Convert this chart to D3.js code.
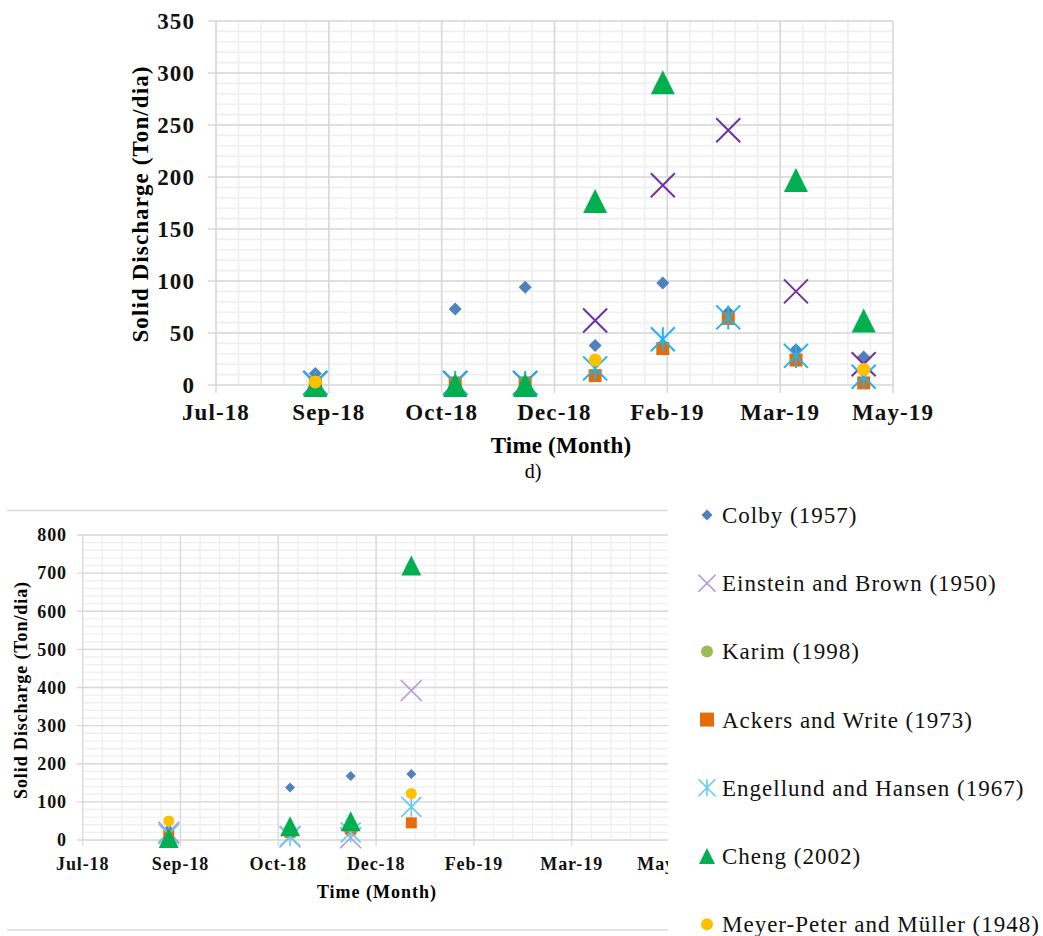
<!DOCTYPE html>
<html>
<head>
<meta charset="utf-8">
<script src="https://cdn.jsdelivr.net/npm/d3@7"></script>
<style>
  body { margin: 0; background: #fff; }
  svg { display: block; font-family: "Liberation Serif", "Times New Roman", serif; }
</style>
</head>
<body>
<svg id="chart" width="1043" height="936"></svg>
<script>
// ---- Data ----
const sampleDates = ["2018-09-01", "2018-11-02", "2018-12-03", "2019-01-03",
                     "2019-02-02", "2019-03-03", "2019-04-02", "2019-05-02"];
const axisStart = "2018-07-19";
const axisEnd = "2019-05-15";
const tickLabels = ["Jul-18", "Sep-18", "Oct-18", "Dec-18", "Feb-19", "Mar-19", "May-19"];

const seriesNames = ["Colby (1957)", "Einstein and Brown (1950)", "Karim (1998)",
                     "Ackers and Write (1973)", "Engellund and Hansen (1967)",
                     "Cheng (2002)", "Meyer-Peter and Müller (1948)"];

// panel d) (top), one value per sample date
const colbyD    = [11, 73, 94, 38, 98, 70, 34, 27];
const einsteinD = [2, 2, 2, 62, 192, 245, 90, 20];
const karimD    = [null, null, null, null, null, null, null, null];
const ackersD   = [2, 2, 2, 9, 35, 64, 24, 2];
const engelundD = [2, 2, 2, 16, 44, 65, 28, 8];
const chengD    = [0, 0, 0, 177, 291, null, 197, 62];
const meyerD    = [3, null, null, 24, null, null, null, 15];

// bottom panel, first four sample dates
const colbyC    = [28, 138, 168, 173];
const einsteinC = [20, 8, 6, 392];
const karimC    = [null, null, null, null];
const ackersC   = [12, 20, 28, 45];
const engelundC = [15, 10, 20, 87];
const chengC    = [5, 36, 49, 720];
const meyerC    = [50, null, null, 122];

const parse = d3.utcParse("%Y-%m-%d");
const svg = d3.select("#chart");

// ---- Marker shapes ----
function markerPath(type, s) {
    const h = s / 2;
    switch (type) {
        case "diamond":  return `M0,${-h}L${h},0L0,${h}L${-h},0Z`;
        case "square":   return `M${-h},${-h}H${h}V${h}H${-h}Z`;
        case "triangle": return `M0,${-h}L${h},${h}L${-h},${h}Z`;
        case "circle":   return `M${h},0A${h},${h} 0 1,1 ${-h},0A${h},${h} 0 1,1 ${h},0Z`;
        case "x":        return `M${-h},${-h}L${h},${h}M${h},${-h}L${-h},${h}`;
        case "star":     return `M${-h},${-h}L${h},${h}M${h},${-h}L${-h},${h}M0,${-h}V${h}`;
    }
}
const strokeOnly = t => t === "x" || t === "star";

function drawMarker(g, type, size, color, sw) {
    return g.append("path")
        .attr("d", markerPath(type, size))
        .attr("fill", strokeOnly(type) ? "none" : color)
        .attr("stroke", strokeOnly(type) ? color : "none")
        .attr("stroke-width", sw);
}

// ---- Generic panel ----
function drawPanel(opt) {
    const g = svg.append("g");
    if (opt.clip) {
        svg.append("clipPath").attr("id", opt.clip.id)
            .append("rect").attr("x", 0).attr("y", 0)
            .attr("width", opt.clip.width).attr("height", 936);
        g.attr("clip-path", `url(#${opt.clip.id})`);
    }

    const x = d3.scaleUtc()
        .domain([parse(axisStart), parse(axisEnd)])
        .range(opt.xRange);
    const y = d3.scaleLinear()
        .domain([0, opt.yMax])
        .range(opt.yRange);

    const x0 = opt.xRange[0], x1 = opt.xRange[1];
    const y0 = opt.yRange[0], y1 = opt.yRange[1];

    const majorX = d3.range(0, 301, 50).map(d => d3.utcDay.offset(parse(axisStart), d));
    const minorX = d3.range(0, 301, 10).map(d => d3.utcDay.offset(parse(axisStart), d));
    const majorY = d3.range(0, opt.yMax + 1, opt.yStep);
    const minorY = d3.range(0, opt.yMax + 1, opt.yStep / 5);

    // minor grid
    g.selectAll(".minor-x").data(minorX).join("line")
        .attr("x1", d => x(d)).attr("x2", d => x(d))
        .attr("y1", y1).attr("y2", y0)
        .attr("stroke", "#EFEFEF").attr("stroke-width", opt.gridW);
    g.selectAll(".minor-y").data(minorY).join("line")
        .attr("x1", x0).attr("x2", x1)
        .attr("y1", d => y(d)).attr("y2", d => y(d))
        .attr("stroke", "#EFEFEF").attr("stroke-width", opt.gridW);

    // major grid (with outside tick marks)
    g.selectAll(".major-x").data(majorX).join("line")
        .attr("x1", d => x(d)).attr("x2", d => x(d))
        .attr("y1", y1).attr("y2", y0 + opt.tickLen)
        .attr("stroke", "#D9D9D9").attr("stroke-width", opt.gridW);
    g.selectAll(".major-y").data(majorY).join("line")
        .attr("x1", x0 - opt.tickLen).attr("x2", x1)
        .attr("y1", d => y(d)).attr("y2", d => y(d))
        .attr("stroke", "#D9D9D9").attr("stroke-width", opt.gridW);

    // tick labels
    g.selectAll(".xlab").data(majorX).join("text")
        .attr("x", d => x(d)).attr("y", opt.xLabelY)
        .attr("text-anchor", "middle")
        .attr("font-weight", "bold").attr("font-size", opt.tickFont)
        .attr("letter-spacing", opt.spacing)
        .attr("fill", "#111")
        .text((d, i) => tickLabels[i]);
    g.selectAll(".ylab").data(majorY).join("text")
        .attr("x", opt.yLabelX).attr("y", d => y(d))
        .attr("dy", "0.35em")
        .attr("text-anchor", "end")
        .attr("font-weight", "bold").attr("font-size", opt.tickFont)
        .attr("letter-spacing", opt.spacing)
        .attr("fill", "#111")
        .text(d => d);

    // axis titles
    g.append("text")
        .attr("x", opt.xTitle[0]).attr("y", opt.xTitle[1])
        .attr("text-anchor", "middle")
        .attr("font-weight", "bold").attr("font-size", opt.titleFont)
        .attr("letter-spacing", opt.xTitleSpacing)
        .text("Time (Month)");
    g.append("text")
        .attr("transform", `translate(${opt.yTitle[0]},${opt.yTitle[1]}) rotate(-90)`)
        .attr("text-anchor", "middle")
        .attr("font-weight", "bold").attr("font-size", opt.titleFont)
        .attr("letter-spacing", opt.spacing)
        .text("Solid Discharge (Ton/dia)");

    // points, series drawn in legend order
    opt.series.forEach(s => {
        s.values.forEach((v, i) => {
            if (v === null) return;
            const m = g.append("g")
                .attr("transform", `translate(${x(parse(sampleDates[i]))},${y(v)})`);
            drawMarker(m, s.type, opt.sizes[s.type], s.color, opt.markerStroke);
        });
    });
    return g;
}

// ---- Top panel d) ----
drawPanel({
    xRange: [216, 893], yRange: [385, 21], yMax: 350, yStep: 50,
    gridW: 1.6, tickLen: 8,
    tickFont: "23px", titleFont: "23px", spacing: "1.1px", xTitleSpacing: "0.2px",
    xLabelY: 420, yLabelX: 195,
    xTitle: [561, 453], yTitle: [148, 204],
    markerStroke: 2,
    sizes: { diamond: 13, x: 24, circle: 13, square: 13, star: 24, triangle: 24 },
    series: [
        { values: colbyD,    type: "diamond",  color: "#4F81BD" },
        { values: einsteinD, type: "x",        color: "#7030A0" },
        { values: karimD,    type: "circle",   color: "#9BBB59" },
        { values: ackersD,   type: "square",   color: "#E46C0A" },
        { values: engelundD, type: "star",     color: "#1EB4EE" },
        { values: chengD,    type: "triangle", color: "#00B050" },
        { values: meyerD,    type: "circle",   color: "#FFC000" }
    ]
});

svg.append("text")
    .attr("x", 533).attr("y", 478)
    .attr("text-anchor", "middle")
    .attr("font-size", "20px")
    .text("d)");

// ---- Bottom panel ----
svg.append("line").attr("x1", 7).attr("x2", 668).attr("y1", 510.5).attr("y2", 510.5)
    .attr("stroke", "#D9D9D9").attr("stroke-width", 1.5);
svg.append("line").attr("x1", 7).attr("x2", 668).attr("y1", 930).attr("y2", 930)
    .attr("stroke", "#D9D9D9").attr("stroke-width", 1.5);

drawPanel({
    clip: { id: "clipC", width: 668 },
    xRange: [82.7, 669.5], yRange: [840, 535], yMax: 800, yStep: 100,
    gridW: 1.3, tickLen: 6,
    tickFont: "18px", titleFont: "18px", spacing: "0.9px", xTitleSpacing: "1px",
    xLabelY: 870, yLabelX: 67,
    xTitle: [377, 898], yTitle: [27, 690],
    markerStroke: 1.6,
    sizes: { diamond: 10, x: 21, circle: 11, square: 11, star: 20, triangle: 20 },
    series: [
        { values: colbyC,    type: "diamond",  color: "#4F81BD" },
        { values: einsteinC, type: "x",        color: "#B195D8" },
        { values: karimC,    type: "circle",   color: "#9BBB59" },
        { values: ackersC,   type: "square",   color: "#E46C0A" },
        { values: engelundC, type: "star",     color: "#63CBF4" },
        { values: chengC,    type: "triangle", color: "#00B050" },
        { values: meyerC,    type: "circle",   color: "#FFC000" }
    ]
});

// ---- Legend ----
const legendTypes  = ["diamond", "x", "circle", "square", "star", "triangle", "circle"];
const legendColors = ["#4F81BD", "#B195D8", "#9BBB59", "#E46C0A", "#63CBF4", "#00B050", "#FFC000"];
const legendSizes  = { diamond: 11, x: 17, circle: 12, square: 14, star: 17, triangle: 16 };

const legend = svg.append("g").attr("class", "legend");
const item = legend.selectAll(".legend-item")
    .data(seriesNames)
    .join("g")
    .attr("class", "legend-item")
    .attr("transform", (d, i) => `translate(0, ${523 + i * 68.2})`);

item.each(function(d, i) {
    const m = d3.select(this).append("g").attr("transform", "translate(707,-8)");
    drawMarker(m, legendTypes[i], legendSizes[legendTypes[i]], legendColors[i], 1.6);
});

item.append("text")
    .attr("x", 722)
    .attr("font-size", "23px")
    .attr("letter-spacing", "1px")
    .attr("fill", "#111")
    .text(d => d);
</script>
</body>
</html>
